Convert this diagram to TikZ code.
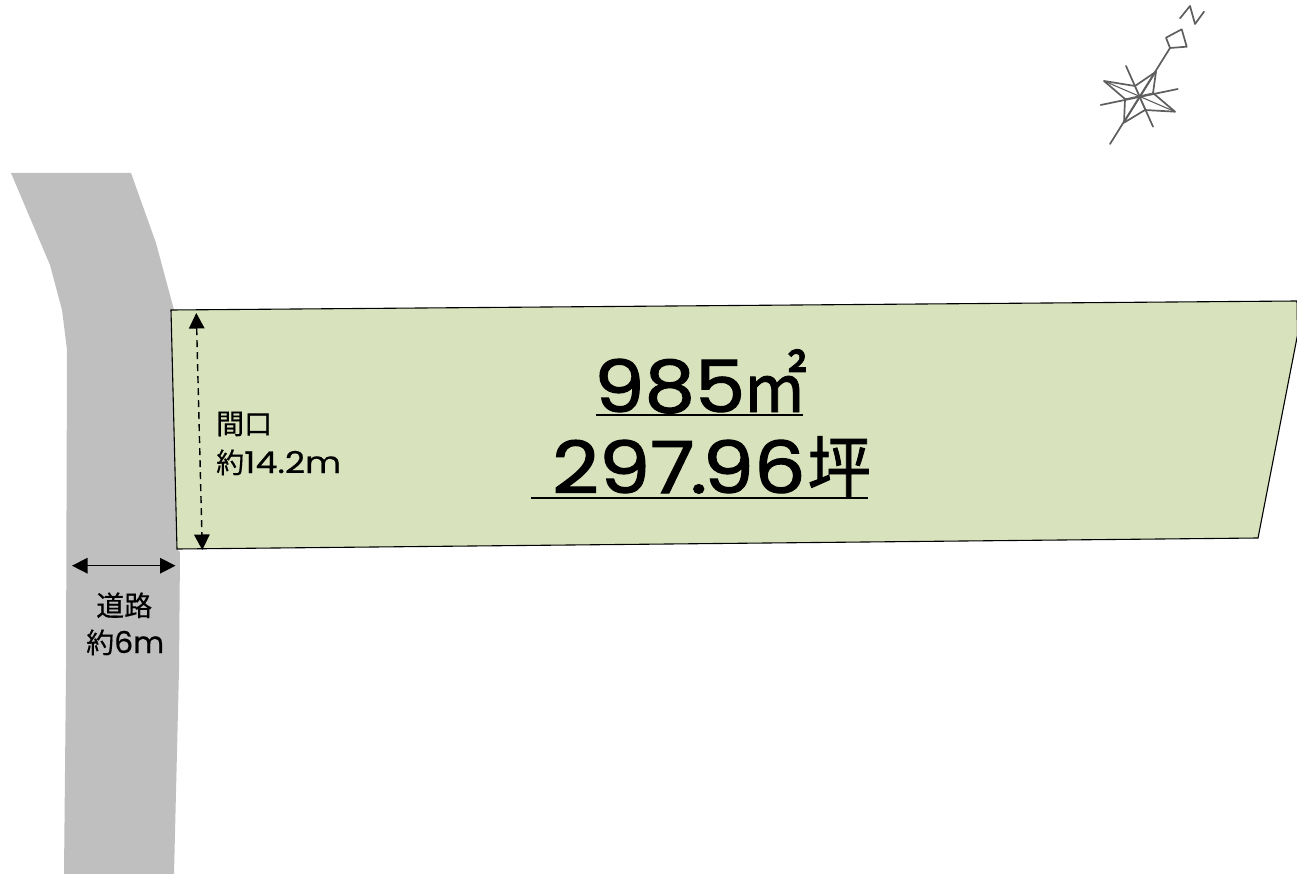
\documentclass[tikz,border=0pt]{standalone}
\usepackage{fontspec}
\setmainfont[FakeBold=1.6]{Poppins}
\newfontfamily\latinsmall[FakeBold=0.5]{Poppins}
\newfontfamily\jp[FakeBold=0.3]{Noto Sans CJK JP}
\newfontfamily\jpbig[FakeBold=1.2]{Noto Sans CJK JP}
\usetikzlibrary{arrows.meta}
\definecolor{roadgray}{HTML}{BFBFBF}
\definecolor{lotgreen}{HTML}{D8E3BD}
\definecolor{compassgray}{HTML}{5E5E5E}
\tikzset{
  dimarrow/.style={draw=black,line width=1.4pt,{Triangle[length=15.5pt,width=15.5pt]}-{Triangle[length=15.5pt,width=15.5pt]}},
  smalltext/.style={inner sep=0pt,anchor=base west,font=\fontsize{28}{28}\selectfont},
  bigtext/.style={inner sep=0pt,anchor=base west},
  rulebar/.style={draw=black,line width=2.6pt},
  compassline/.style={draw=compassgray,line width=1.7pt,line join=round,line cap=round}
}
\begin{document}
\begin{tikzpicture}[x=1pt,y=-1pt]
\useasboundingbox (0,0) rectangle (1297,874);
\clip (0,0) rectangle (1297,874);
% road
\fill[roadgray] (11,173) -- (131,173) -- (156,243) -- (174,310) -- (177,549) -- (180,552) -- (179,670) -- (174,874) -- (64,874) -- (66,670) -- (67,350) -- (62,310) -- (50,265) -- cycle;
% lot
\draw[fill=lotgreen,draw=black,line width=1.1pt] (171,310) -- (1297,301) -- (1297.5,335) -- (1258,538) -- (177,549) -- cycle;
% dimension arrows
\coordinate (frontTop) at (196.3,313);
\coordinate (frontBottom) at (202.3,550);
\coordinate (roadLeft) at (72,565.7);
\coordinate (roadRight) at (175.5,565.7);
\draw[dimarrow,dashed,dash pattern=on 7pt off 5pt] (frontTop) -- (frontBottom);
\draw[dimarrow] (roadLeft) -- (roadRight);
% labels
\node[smalltext] (frontA) at (216,434) {\jp 間口};
\node[smalltext] (frontB) at (216,473) {\jp 約\latinsmall\fontsize{30}{30}\selectfont\scalebox{1.17}[1]{14.2m}};
\node[smalltext] (roadA) at (96,616) {\jp 道路};
\node[smalltext] (roadB) at (86,653) {\jp 約\latinsmall\fontsize{30}{30}\selectfont 6m};
% area
\node[bigtext] (areaA) at (594,412) {\fontsize{72}{72}\selectfont\scalebox{1.11}[1]{985}\kern-3pt\jpbig\scalebox{0.9}[1]{㎡}};
\node[bigtext] (areaB) at (552,493) {\fontsize{72}{72}\selectfont\scalebox{1.13}[1]{297\kern-4pt.\kern-4pt96}\kern2pt\jpbig\scalebox{0.88}[0.95]{坪}};
\coordinate (ruleAl) at (596,415); \coordinate (ruleAr) at (803,415);
\coordinate (ruleBl) at (531,498); \coordinate (ruleBr) at (868,498);
\draw[rulebar] (ruleAl) -- (ruleAr);
\draw[rulebar] (ruleBl) -- (ruleBr);
% compass
\draw[compassline] (1110,144) -- (1170,48);
\draw[compassline] (1126,66) -- (1153,126.7);
\draw[compassline] (1100.7,105) -- (1177.7,89);
\draw[compassline] (1166,37.7) -- (1181.7,29.3) -- (1186.7,46.7) -- (1170,48) -- cycle;
\draw[compassline] (1180,18.3) -- (1190,6) -- (1195,24) -- (1204,11.7);
\draw[compassline] (1156,71.7) -- (1135,86) -- (1104,81) -- (1125,99) -- (1124,122.7) -- (1145,110) -- (1175,111.7) -- (1153,93) -- cycle;
\draw[compassline,line width=1.1pt] (1104,81) -- (1175,111.7) (1156,71.7) -- (1124,122.7);
\draw[compassline,line width=.9pt] (1135,86) -- (1145,110) (1125,99) -- (1153,93);
\end{tikzpicture}
\end{document}
